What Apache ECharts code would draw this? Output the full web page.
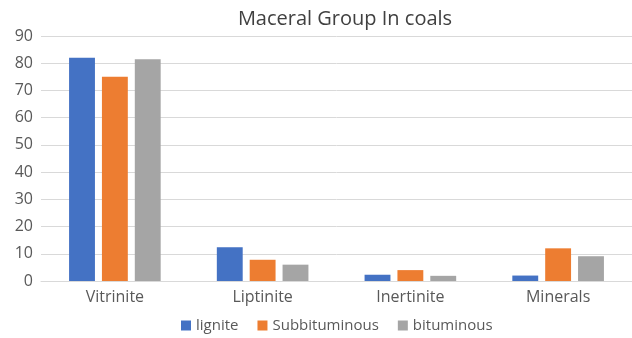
<!DOCTYPE html>
<html>
<head>
<meta charset="utf-8">
<script src="https://cdn.jsdelivr.net/npm/echarts@6/dist/echarts.min.js"></script>
<style>
  html, body { margin: 0; padding: 0; background: #fff; }
  #chart { width: 632px; height: 338px; }
</style>
</head>
<body>
<div id="chart"></div>
<script>
// data
var categories = ['Vitrinite', 'Liptinite', 'Inertinite', 'Minerals'];
var lignite = [82, 12.4, 2.3, 2];
var subbituminous = [75, 7.8, 4, 12];
var bituminous = [81.5, 6, 1.9, 9.1];
var yTicks = { min: 0, max: 90, interval: 10 };

var textColor = '#595959';
var fontFamily = '"Open Sans", sans-serif';

var chart = echarts.init(document.getElementById('chart'));

function bar(name, data, color) {
  return {
    name: name,
    type: 'bar',
    data: data,
    itemStyle: { color: color },
    barGap: '27%',
    barCategoryGap: '38%'
  };
}

var option = {
  animation: false,
  textStyle: { fontFamily: fontFamily },
  title: {
    text: 'Maceral Group In coals',
    left: 340,
    textAlign: 'center',
    top: 4,
    textStyle: { fontSize: 20, fontWeight: 'normal', color: '#404040', fontFamily: fontFamily }
  },
  legend: {
    data: ['lignite', 'Subbituminous', 'bituminous'],
    top: 318,
    left: 181,
    padding: 0,
    itemWidth: 10,
    itemHeight: 10,
    itemGap: 19,
    icon: 'rect',
    textStyle: { fontSize: 15, color: textColor, fontFamily: fontFamily }
  },
  grid: { left: 41, top: 36, width: 602, height: 245 },
  xAxis: {
    type: 'category',
    data: categories,
    axisTick: { show: false },
    axisLine: { lineStyle: { color: '#D9D9D9' } },
    axisLabel: { fontSize: 16, color: textColor, margin: 8 }
  },
  yAxis: {
    type: 'value',
    min: yTicks.min,
    max: yTicks.max,
    interval: yTicks.interval,
    axisLine: { show: false },
    axisTick: { show: false },
    splitLine: { lineStyle: { color: '#D9D9D9' } },
    axisLabel: { fontSize: 16, color: textColor, margin: 8 }
  },
  series: [
    bar('lignite', lignite, '#4472C4'),
    bar('Subbituminous', subbituminous, '#ED7D31'),
    bar('bituminous', bituminous, '#A5A5A5')
  ]
};

chart.setOption(option);
</script>
</body>
</html>
